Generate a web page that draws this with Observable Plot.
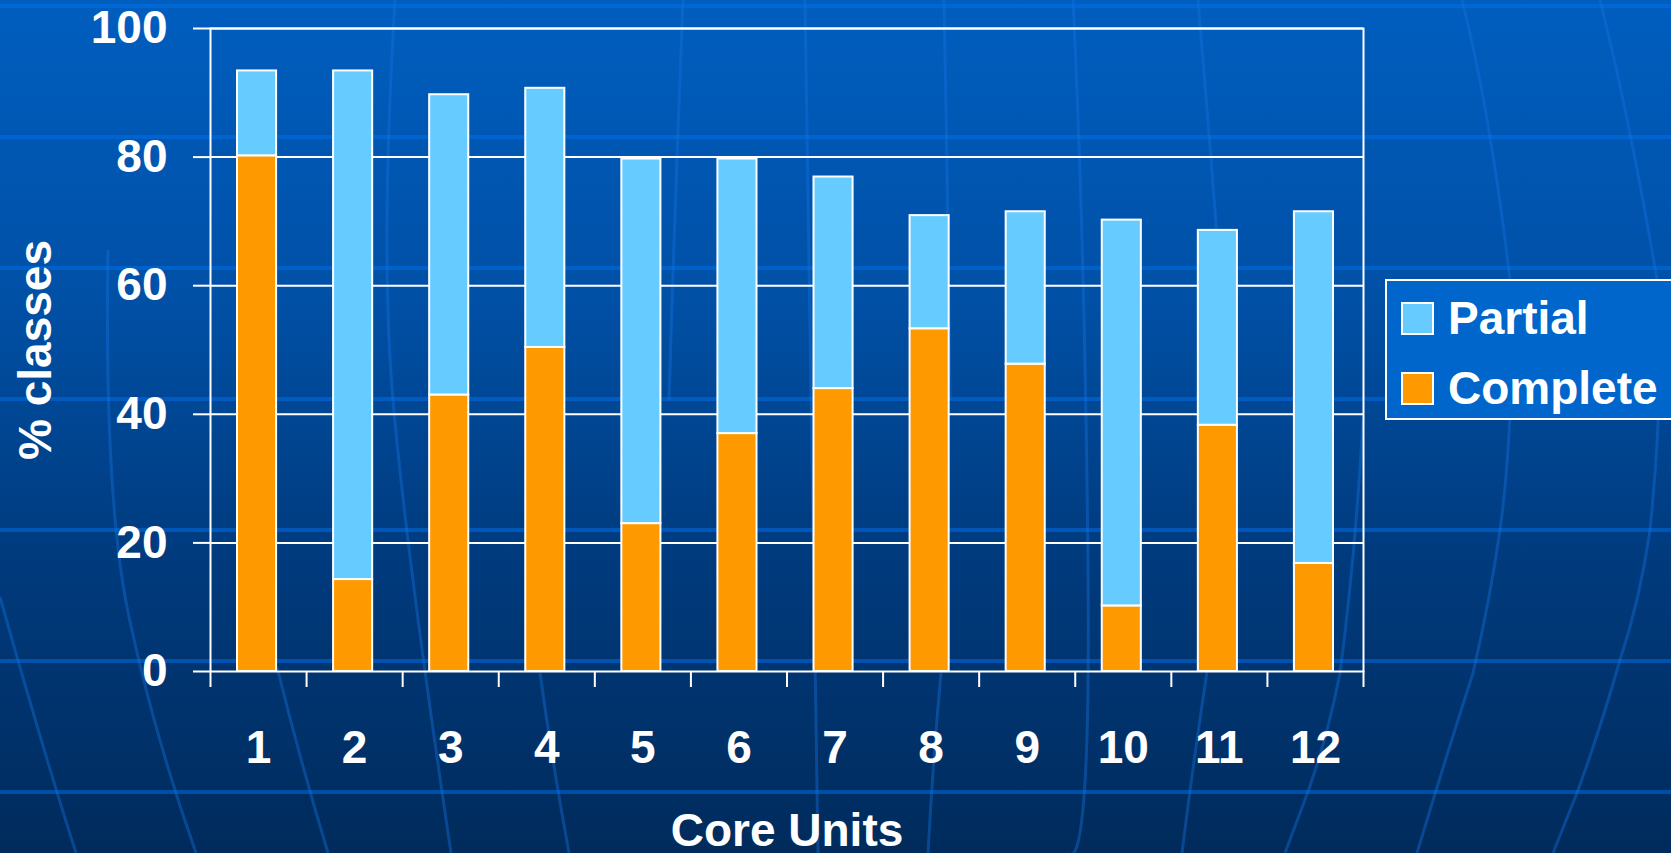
<!DOCTYPE html>
<html>
<head>
<meta charset="utf-8">
<script src="https://cdn.jsdelivr.net/npm/d3@7"></script>
<script src="https://cdn.jsdelivr.net/npm/@observablehq/plot@0.6"></script>
<style>
  html, body { margin: 0; padding: 0; width: 1671px; height: 853px; overflow: hidden; }
  body { background: linear-gradient(to bottom, #005EBF 0%, #0050A6 35%, #003B7E 65%, #002B5C 100%); font-family: "Liberation Sans", Arial, sans-serif; }
  #wrap { position: relative; width: 1671px; height: 853px; }
  #bg { position: absolute; left: 0; top: 0; width: 1671px; height: 853px;
        background: repeating-linear-gradient(to bottom, transparent 0px, transparent 4px, rgba(0,112,235,0.5) 4px, rgba(0,112,235,0.5) 8px, transparent 8px, transparent 131px); }
  #deco { position: absolute; left: 0; top: 0; }
  #chart { position: absolute; left: 0; top: 0; }
  #legend { position: absolute; left: 1385px; top: 279px; width: 330px; height: 137px;
            background: #0066CC; border: 2px solid #ffffff; box-sizing: content-box; }
  .item { position: absolute; left: 14px; display: flex; align-items: center; color: #fff;
          font: bold 46px "Liberation Sans", Arial, sans-serif; white-space: nowrap; }
  .sw { width: 29px; height: 29px; border: 2px solid #fff; margin-right: 14px; }
</style>
</head>
<body>
<div id="wrap">
  <div id="bg"></div>
  <svg id="deco" width="1671" height="853" fill="none" stroke="rgba(20,115,225,0.4)" stroke-width="3">
    <path d="M108,250 Q104,500 129,617 T196,853"/>
    <path d="M0,597 Q40,740 76,853"/>
    <path d="M277,667 Q300,760 328,853"/>
    <path d="M395,0 Q380,250 393,400 T451,853"/>
    <path d="M540,673 Q552,760 569,853"/>
    <path d="M683,0 Q675,200 669,400"/>
    <path d="M805,0 Q812,420 818,853"/>
    <path d="M944,0 Q948,200 950,400"/>
    <path d="M941,673 Q933,760 928,853"/>
    <path d="M1073,0 Q1085,250 1088,567 T1066,853"/>
    <path d="M1198,0 Q1215,200 1229,400"/>
    <path d="M1213,633 Q1196,740 1182,853"/>
    <path d="M1462,0 Q1490,110 1510,280 Q1515,420 1500,530 Q1490,600 1473,673 Q1445,760 1417,853"/>
    <path d="M1600,0 Q1630,120 1657,280 Q1665,380 1650,530 Q1640,600 1620,660 Q1600,730 1577,793 L1553,853"/>
    <path d="M1363,420 Q1355,560 1340,673 Q1325,750 1300,813 L1285,853"/>
  </svg>
  <div id="chart"></div>
  <div id="legend"></div>
</div>
<script>
// ---- data ----
const units = [1, 2, 3, 4, 5, 6, 7, 8, 9, 10, 11, 12];
const unitEdges = [0.5, 1.5, 2.5, 3.5, 4.5, 5.5, 6.5, 7.5, 8.5, 9.5, 10.5, 11.5, 12.5];
const complete = [80.2, 14.3, 43.0, 50.4, 23.0, 37.0, 44.0, 53.3, 47.8, 10.2, 38.3, 16.8];
const partial  = [13.2, 79.1, 46.7, 40.3, 56.7, 42.7, 32.9, 17.6, 23.7, 60.0, 30.3, 54.7];
const seriesNames = ["Complete", "Partial"];
const seriesColors = ["#FF9900", "#66CCFF"];
const yTicks = [0, 20, 40, 60, 80, 100];
const gridTicks = [20, 40, 60, 80, 100];
const legendOrder = ["Partial", "Complete"];

const rows = [];
units.forEach((u, i) => rows.push({unit: u, series: "Complete", value: complete[i]}));
units.forEach((u, i) => rows.push({unit: u, series: "Partial", value: partial[i]}));

const font = '"Liberation Sans", Arial, sans-serif';

const chart = Plot.plot({
  width: 1671,
  height: 853,
  marginLeft: 210,
  marginRight: 308,
  marginTop: 28,
  marginBottom: 182,
  style: {background: "transparent", color: "white", fontFamily: font, fontWeight: "bold", fontSize: "46px", overflow: "visible"},
  x: {type: "linear", domain: [0.5, 12.5]},
  y: {domain: [0, 100]},
  color: {domain: seriesNames, range: seriesColors},
  marks: [
    Plot.gridY(gridTicks, {stroke: "white", strokeOpacity: 1, strokeWidth: 2}),
    Plot.rectY(rows, Plot.stackY({
      x1: d => d.unit - 0.5,
      x2: d => d.unit + 0.5,
      y: "value",
      fill: "series",
      stroke: "white",
      strokeWidth: 2,
      insetLeft: 27,
      insetRight: 30
    })),
    Plot.frame({stroke: "white", strokeWidth: 2}),
    Plot.axisY(yTicks, {
      tickSize: 17, tickPadding: 26, strokeWidth: 2,
      label: "% classes", labelAnchor: "center", labelOffset: 192, labelArrow: "none",
      fontSize: 46, fontWeight: "bold"
    }),
    Plot.axisX(unitEdges, {tickSize: 16, strokeWidth: 2, tickFormat: () => "", label: null}),
    Plot.axisX(units, {
      tickSize: 0, tickPadding: 59,
      label: "Core Units", labelAnchor: "center", labelOffset: 174, labelArrow: "none",
      fontSize: 46, fontWeight: "bold"
    })
  ]
});
document.getElementById("chart").appendChild(chart);

// ---- legend ----
const legend = document.getElementById("legend");
const colorOf = s => seriesColors[seriesNames.indexOf(s)];
legendOrder.forEach((s, i) => {
  const it = document.createElement("div");
  it.className = "item";
  it.style.top = (i === 0 ? 10 : 80) + "px";
  const sw = document.createElement("div");
  sw.className = "sw";
  sw.style.background = colorOf(s);
  const tx = document.createElement("span");
  tx.textContent = s;
  it.appendChild(sw);
  it.appendChild(tx);
  legend.appendChild(it);
});
</script>
</body>
</html>
